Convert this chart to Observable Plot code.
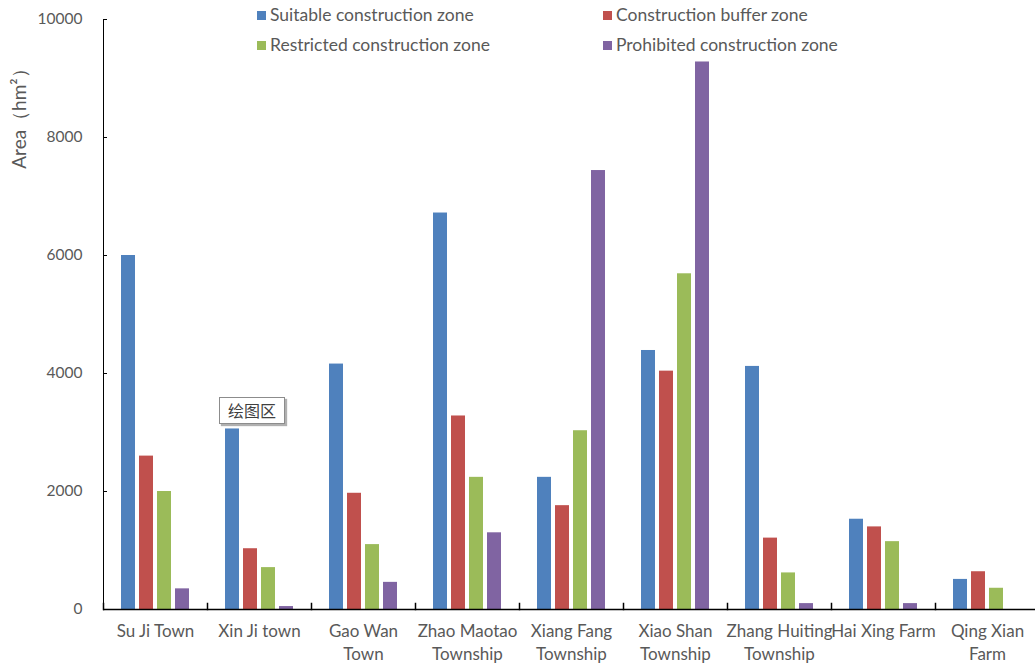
<!DOCTYPE html>
<html>
<head>
<meta charset="utf-8">
<script src="https://cdn.jsdelivr.net/npm/d3@7"></script>
<script src="https://cdn.jsdelivr.net/npm/@observablehq/plot@0.6"></script>
<style>
  html, body { margin: 0; padding: 0; background: #fff; overflow: hidden; }
  #wrap { position: relative; width: 1035px; height: 664px; overflow: hidden; font-family: Lato, "Noto Sans", sans-serif; color: #595959; }
  #chart { position: absolute; left: 0; top: 0; }
  #chart svg { max-width: none !important; }
  .leg { position: absolute; font-size: 17.5px; line-height: 18px; white-space: nowrap; display: flex; align-items: center; }
  .leg span.sw { display: inline-block; width: 9px; height: 9px; margin-right: 4px; }
  #ytitle { position: absolute; left: 20px; top: 114px; transform: translate(-50%, -50%) rotate(-90deg); font-size: 19px; white-space: nowrap; }
  #tip { position: absolute; left: 219px; top: 397px; width: 64px; height: 25px; border: 1px solid #8c8c8c; background: #fff; box-shadow: 2px 2px 1px #b0b0b0; font-family: "Noto Sans CJK SC", sans-serif; font-size: 16px; color: #404040; line-height: 25px; text-align: center; }
</style>
</head>
<body>
<div id="wrap">
  <div id="chart"></div>
  <div id="legend"></div>
  <div id="ytitle">Area（hm²）</div>
  <div id="tip">绘图区</div>
</div>
<script>
const categories = ["Su Ji Town", "Xin Ji town", "Gao Wan Town", "Zhao Maotao Township", "Xiang Fang Township", "Xiao Shan Township", "Zhang Huiting Township", "Hai Xing Farm", "Qing Xian Farm"];
const categoryLabels = ["Su Ji Town", "Xin Ji town", "Gao Wan\nTown", "Zhao Maotao\nTownship", "Xiang Fang\nTownship", "Xiao Shan\nTownship", "Zhang Huiting\nTownship", "Hai Xing Farm", "Qing Xian\nFarm"];
const seriesNames = ["Suitable construction zone", "Construction buffer zone", "Restricted construction zone", "Prohibited construction zone"];
const suitable   = [6000, 3060, 4160, 6720, 2240, 4390, 4120, 1530, 510];
const buffer     = [2600, 1030, 1970, 3280, 1760, 4040, 1210, 1400, 640];
const restricted = [2000,  710, 1100, 2240, 3030, 5690,  620, 1150, 360];
const prohibited = [ 350,   50,  460, 1300, 7440, 9280,  100,  100,   0];
const colors = ["#4F81BD", "#C0504D", "#9BBB59", "#8064A2"];
const yTicks = [0, 2000, 4000, 6000, 8000, 10000];

const seriesValues = [suitable, buffer, restricted, prohibited];
const data = categories.flatMap((c, i) => seriesNames.map((s, j) => ({category: c, series: s, value: seriesValues[j][i]})));
const labelOf = new Map(categories.map((c, i) => [c, categoryLabels[i]]));

const chart = Plot.plot({
  width: 1041,
  height: 664,
  marginTop: 19,
  marginBottom: 55,
  marginLeft: 101,
  marginRight: 0,
  style: {fontFamily: "Lato, 'Noto Sans', sans-serif", fontSize: "16px", color: "#595959", background: "transparent", overflow: "visible"},
  fx: {domain: categories, padding: 0, label: null},
  x: {domain: seriesNames, paddingInner: 0.21, paddingOuter: 0.85, axis: null},
  y: {domain: [0, 10000], label: null},
  color: {domain: seriesNames, range: colors},
  marks: [
    Plot.barY(data, {fx: "category", x: "series", y: "value", fill: "series"}),
    Plot.ruleY([0], {stroke: "#000", strokeWidth: 1.5}),
    Plot.frame({anchor: "left", facetAnchor: "left", stroke: "#000"}),
    Plot.frame({anchor: "left", insetTop: 584, stroke: "#000", strokeWidth: 1.5}),
    Plot.axisY({ticks: yTicks, tickSize: -4, tickPadding: 25, tickFormat: d => String(d), label: null, fontSize: 15.5, stroke: "#000", fill: "#595959"}),
    Plot.axisFx({anchor: "bottom", tickSize: 0, tickPadding: 12, tickFormat: d => labelOf.get(d), lineHeight: 1.32, fontSize: 17, label: null, fill: "#595959"})
  ]
});
chart.style.maxWidth = "none";
document.getElementById("chart").appendChild(chart);

const legendPos = [[257, 15], [603, 15], [257, 45], [603, 45]];
const legend = document.getElementById("legend");
seriesNames.forEach((s, i) => {
  const d = document.createElement("div");
  d.className = "leg";
  d.style.left = legendPos[i][0] + "px";
  d.style.top = (legendPos[i][1] - 9) + "px";
  d.innerHTML = `<span class="sw" style="background:${colors[i]}"></span>${s}`;
  legend.appendChild(d);
});
</script>
</body>
</html>
